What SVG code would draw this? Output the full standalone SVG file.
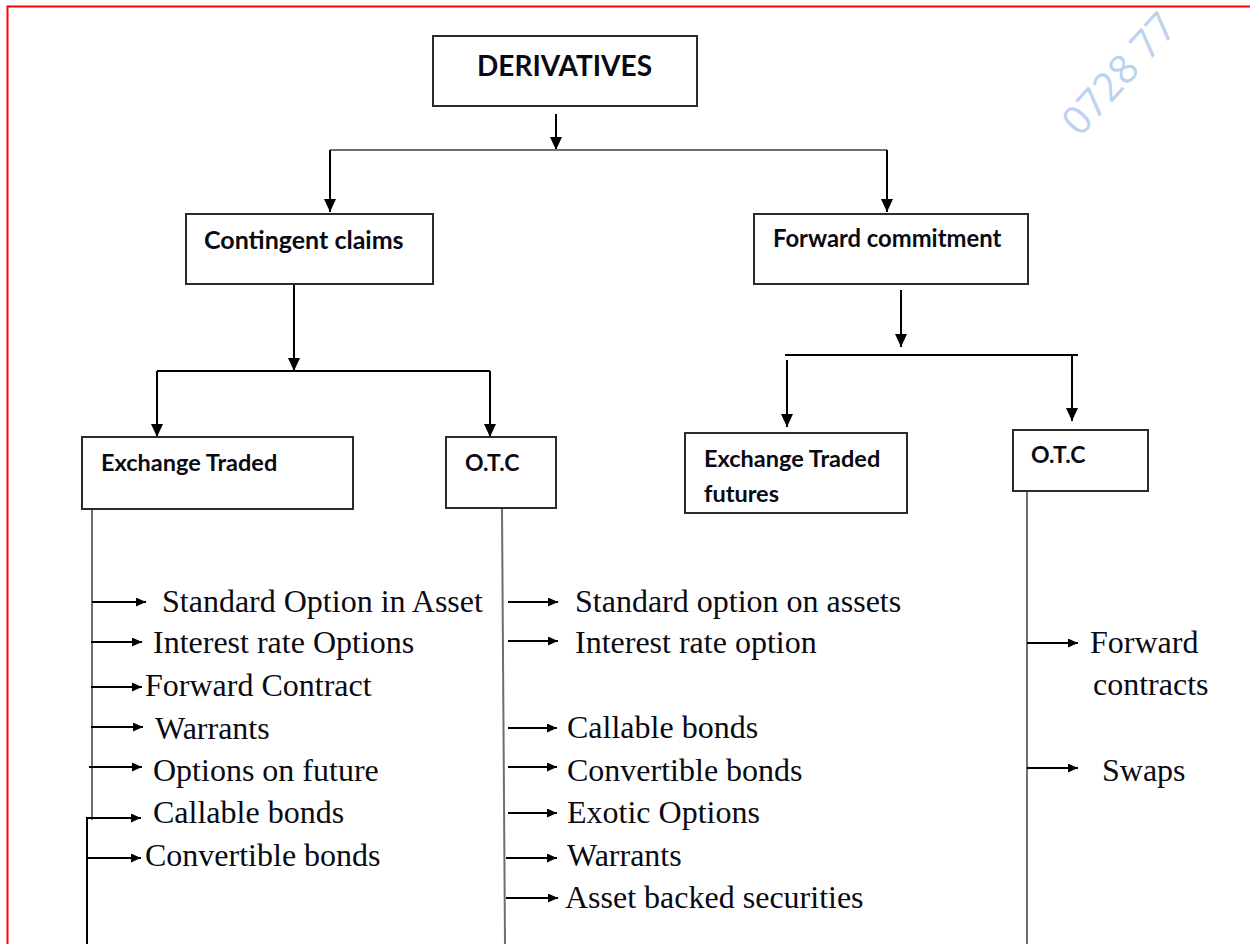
<svg xmlns="http://www.w3.org/2000/svg" width="1250" height="944" viewBox="0 0 1250 944">
<style>
.box{fill:#fff;stroke:#2b2b2b;stroke-width:2}
.hd{font-family:"Lato","Open Sans",sans-serif;font-weight:700;fill:#0a0a14}
.it{font-family:"Liberation Serif","Times New Roman",serif;font-size:32px;fill:#0a0a14}
.ln{fill:none;stroke:#000;stroke-width:2}
.gl{fill:none;stroke:#6e6e6e;stroke-width:2}
.big{fill:none;stroke:#000;stroke-width:2;marker-end:url(#bigHead)}
.sm{fill:none;stroke:#000;stroke-width:2;marker-end:url(#smHead)}
.wm{font-family:"Open Sans","Liberation Sans",sans-serif;font-weight:400;font-size:40px;fill:#bcd2ee}
</style>
<defs>
<marker id="bigHead" markerUnits="userSpaceOnUse" markerWidth="14" markerHeight="12" refX="13" refY="6" orient="auto" viewBox="0 0 14 12">
<path d="M0,0 L13,6 L0,12 z" fill="#000"/>
</marker>
<marker id="smHead" markerUnits="userSpaceOnUse" markerWidth="11" markerHeight="9" refX="10" refY="4.5" orient="auto" viewBox="0 0 11 9">
<path d="M0,0 L10,4.5 L0,9 z" fill="#000"/>
</marker>
</defs>
<rect x="0" y="0" width="1250" height="944" fill="#fff"/>
<path d="M7.5,944 V6.5 H1250" fill="none" stroke="#ff0000" stroke-width="2"/>
<text class="wm" x="1080" y="138" transform="rotate(-48 1080 138)">0728 77</text>

<g id="connectors">
<path class="big" d="M556,114 V150"/>
<path class="gl" d="M330,150 H887"/>
<path class="big" d="M330,150 V212"/>
<path class="big" d="M887,150 V212"/>
<path class="big" d="M294,285 V371"/>
<path class="ln" d="M157,371 H490"/>
<path class="big" d="M157,371 V437"/>
<path class="big" d="M490,371 V437"/>
<path class="big" d="M901,290 V347"/>
<path class="ln" d="M785,355 H1078"/>
<path class="big" d="M787,360 V427"/>
<path class="big" d="M1072,355 V421"/>
<path class="gl" d="M92,509 V820"/>
<path class="ln" d="M87,818 V944"/>
<path class="gl" d="M502,509 L505,944"/>
<path class="gl" d="M1027,489 V944"/>
<path class="sm" d="M92,602 H146"/>
<path class="sm" d="M91,642 H142"/>
<path class="sm" d="M91,687 H142"/>
<path class="sm" d="M91,727 H143"/>
<path class="sm" d="M89,767 H142"/>
<path class="sm" d="M86,818 H141"/>
<path class="sm" d="M87,858 H141"/>
<path class="sm" d="M508,602 H558"/>
<path class="sm" d="M508,641 H558"/>
<path class="sm" d="M508,728 H557"/>
<path class="sm" d="M508,767 H557"/>
<path class="sm" d="M508,813 H557"/>
<path class="sm" d="M506,858 H557"/>
<path class="sm" d="M506,898 H558"/>
<path class="sm" d="M1027,643 H1078"/>
<path class="sm" d="M1027,768 H1078"/>
</g>

<g id="derivatives">
<rect class="box" x="433" y="36" width="264" height="70"/>
<text class="hd" x="477" y="76" font-size="28">DERIVATIVES</text>
</g>
<g id="contingent-claims">
<rect class="box" x="186" y="214" width="247" height="70"/>
<text class="hd" x="204" y="249" font-size="25">Contingent claims</text>
</g>
<g id="forward-commitment">
<rect class="box" x="754" y="214" width="274" height="70"/>
<text class="hd" x="773" y="247" font-size="23.8">Forward commitment</text>
</g>
<g id="exchange-traded">
<rect class="box" x="82" y="437" width="271" height="72"/>
<text class="hd" x="101" y="471" font-size="23.5">Exchange Traded</text>
</g>
<g id="otc-left">
<rect class="box" x="446" y="437" width="110" height="71"/>
<text class="hd" x="465" y="471" font-size="23">O.T.C</text>
</g>
<g id="exchange-traded-futures">
<rect class="box" x="685" y="433" width="222" height="80"/>
<text class="hd" x="704" y="467" font-size="23.5">Exchange Traded</text>
<text class="hd" x="704" y="502" font-size="23.5">futures</text>
</g>
<g id="otc-right">
<rect class="box" x="1013" y="430" width="135" height="61"/>
<text class="hd" x="1031" y="463" font-size="23">O.T.C</text>
</g>

<g id="exchange-traded-items">
<text class="it" x="162" y="612">Standard Option in Asset</text>
<text class="it" x="153" y="653">Interest rate Options</text>
<text class="it" x="145" y="696">Forward Contract</text>
<text class="it" x="155" y="739">Warrants</text>
<text class="it" x="153" y="781">Options on future</text>
<text class="it" x="153" y="823">Callable bonds</text>
<text class="it" x="145" y="866">Convertible bonds</text>
</g>
<g id="otc-left-items">
<text class="it" x="575" y="612">Standard option on assets</text>
<text class="it" x="575" y="653">Interest rate option</text>
<text class="it" x="567" y="738">Callable bonds</text>
<text class="it" x="567" y="781">Convertible bonds</text>
<text class="it" x="567" y="823">Exotic Options</text>
<text class="it" x="567" y="866">Warrants</text>
<text class="it" x="565" y="908">Asset backed securities</text>
</g>
<g id="otc-right-items">
<text class="it" x="1090" y="653">Forward</text>
<text class="it" x="1093" y="695">contracts</text>
<text class="it" x="1102" y="781">Swaps</text>
</g>
</svg>
